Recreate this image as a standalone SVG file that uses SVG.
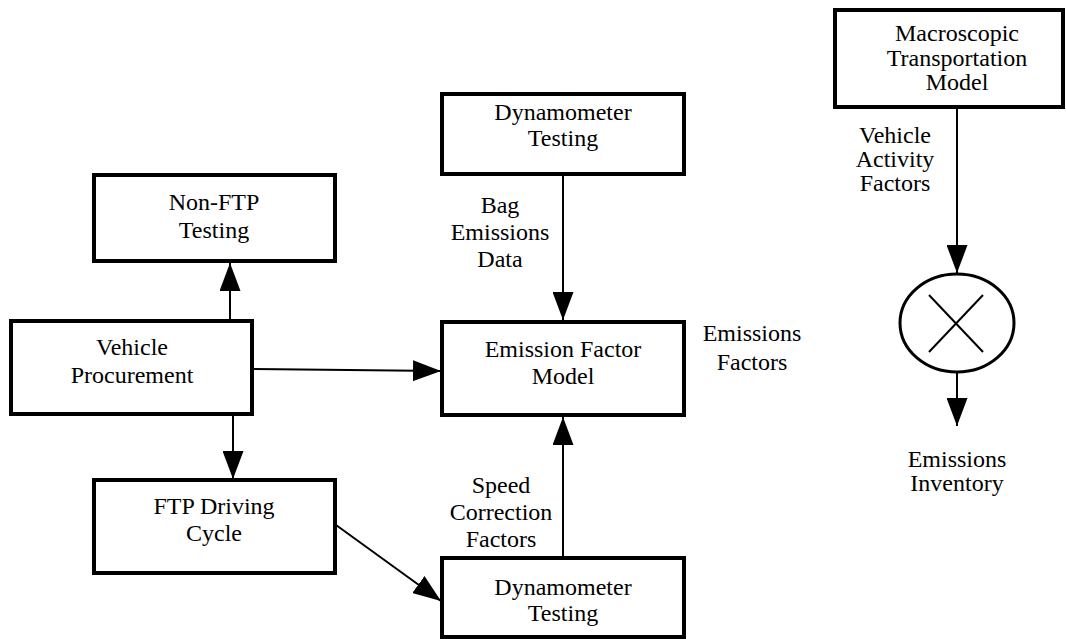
<svg xmlns="http://www.w3.org/2000/svg" width="1066" height="639" viewBox="0 0 1066 639">
<defs>
<style>
.box{fill:#fff;stroke:#000;stroke-width:4}
.t{font-family:"Liberation Serif","Times New Roman",serif;font-size:24px;fill:#000;text-anchor:middle}
.c{stroke:#000;stroke-width:2;fill:none}
</style>
<marker id="ah" viewBox="0 0 28 21" refX="28" refY="10.5" markerWidth="28" markerHeight="21" markerUnits="userSpaceOnUse" orient="auto">
<path d="M0,0 L28,10.5 L0,21 Z" fill="#000"/>
</marker>
</defs>
<rect width="1066" height="639" fill="#fff"/>
<g id="connectors">
<line class="c" x1="230" y1="321" x2="230" y2="263" marker-end="url(#ah)"/>
<line class="c" x1="233" y1="414" x2="233" y2="479" marker-end="url(#ah)"/>
<line class="c" x1="252" y1="369" x2="441" y2="371" marker-end="url(#ah)"/>
<line class="c" x1="336" y1="525" x2="441" y2="601" marker-end="url(#ah)"/>
<line class="c" x1="563" y1="174" x2="563" y2="320" marker-end="url(#ah)"/>
<line class="c" x1="563" y1="558" x2="563" y2="417" marker-end="url(#ah)"/>
<line class="c" x1="957" y1="107" x2="957" y2="273" marker-end="url(#ah)"/>
<line class="c" x1="957" y1="373" x2="957" y2="426" marker-end="url(#ah)"/>
<text class="t" x="500" y="213">Bag</text>
<text class="t" x="500" y="240">Emissions</text>
<text class="t" x="500" y="267">Data</text>
<text class="t" x="501" y="493">Speed</text>
<text class="t" x="501" y="520">Correction</text>
<text class="t" x="501" y="547">Factors</text>
<text class="t" x="752" y="341">Emissions</text>
<text class="t" x="752" y="370">Factors</text>
<text class="t" x="895" y="143">Vehicle</text>
<text class="t" x="895" y="167">Activity</text>
<text class="t" x="895" y="191">Factors</text>
<text class="t" x="957" y="467">Emissions</text>
<text class="t" x="957" y="491">Inventory</text>
</g>
<g id="non-ftp">
<rect class="box" x="94" y="175" width="241" height="86"/>
<text class="t" x="214" y="210">Non-FTP</text>
<text class="t" x="214" y="238">Testing</text>
</g>
<g id="vehicle-procurement">
<rect class="box" x="11" y="321" width="241" height="93"/>
<text class="t" x="132" y="355">Vehicle</text>
<text class="t" x="132" y="383">Procurement</text>
</g>
<g id="ftp-driving-cycle">
<rect class="box" x="94" y="480" width="241" height="93"/>
<text class="t" x="214" y="514">FTP Driving</text>
<text class="t" x="214" y="541">Cycle</text>
</g>
<g id="dyn-top">
<rect class="box" x="442" y="94" width="242" height="80"/>
<text class="t" x="563" y="120">Dynamometer</text>
<text class="t" x="563" y="146">Testing</text>
</g>
<g id="emission-factor-model">
<rect class="box" x="442" y="322" width="242" height="93"/>
<text class="t" x="563" y="357">Emission Factor</text>
<text class="t" x="563" y="384">Model</text>
</g>
<g id="dyn-bottom">
<rect class="box" x="442" y="558" width="242" height="79"/>
<text class="t" x="563" y="595">Dynamometer</text>
<text class="t" x="563" y="621">Testing</text>
</g>
<g id="macroscopic">
<rect class="box" x="835" y="10" width="228" height="97"/>
<text class="t" x="957" y="41">Macroscopic</text>
<text class="t" x="957" y="66">Transportation</text>
<text class="t" x="957" y="90">Model</text>
</g>
<g id="multiplier">
<ellipse cx="957" cy="323" rx="57" ry="49" fill="#fff" stroke="#000" stroke-width="3"/>
<line class="c" x1="929" y1="295" x2="983" y2="352"/>
<line class="c" x1="983" y1="295" x2="929" y2="352"/>
</g>
</svg>
